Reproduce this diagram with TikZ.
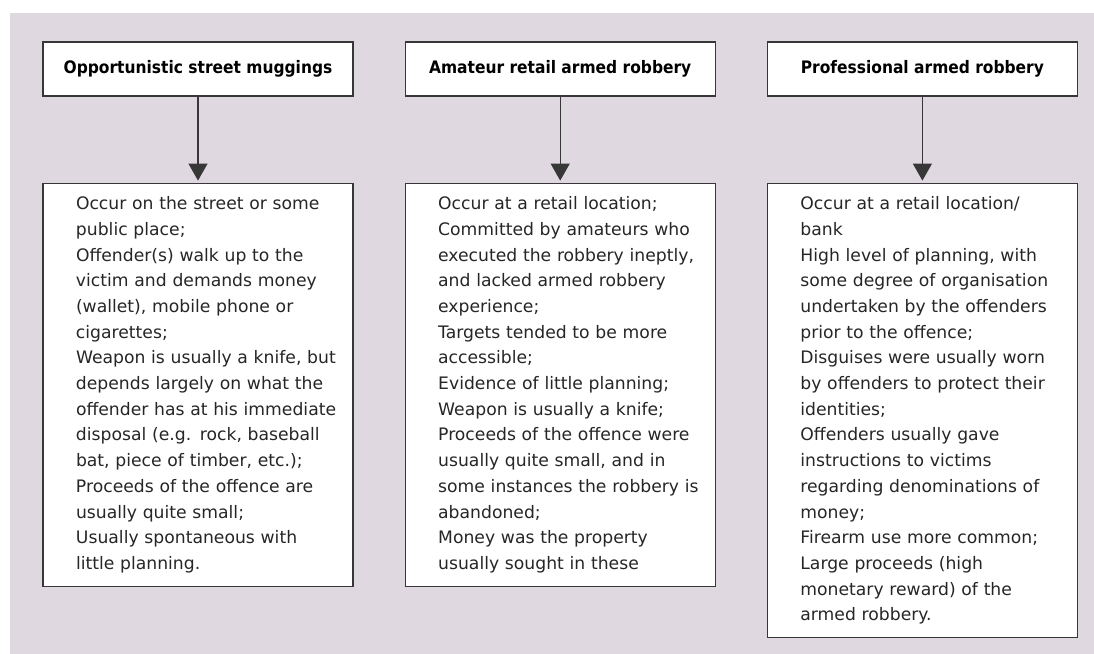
\documentclass[tikz,border=0pt]{standalone}
\usepackage{fontspec}
\setmainfont{DejaVu Sans}
\newfontfamily\headfont{DejaVu Sans Condensed}[BoldFont={DejaVu Sans Condensed Bold}]
\usepackage{xcolor}
\usetikzlibrary{positioning,arrows.meta}
\definecolor{panelbg}{RGB}{224,216,224}
\definecolor{edge}{RGB}{55,55,55}

\begin{document}
\begin{tikzpicture}[
  font=\fontsize{8.6pt}{12.85pt}\selectfont,
  head/.style={draw=edge, fill=white, line width=0.6pt, minimum width=155pt, minimum height=27pt, inner sep=0pt, font=\headfont\bfseries\fontsize{8.6pt}{10pt}\selectfont},
  desc/.style={draw=edge, fill=white, line width=0.6pt, text width=141pt, inner xsep=7pt, inner ysep=6.7pt, align=left, text=black!85, execute at begin node={\leftskip=9.5pt}},
  arr/.style={-{Triangle[width=9.5pt,length=8.5pt]}, line width=0.6pt, draw=edge, shorten >=1pt}
]
  \useasboundingbox (0,0) rectangle (547pt,327pt);
  \fill[panelbg] (5pt,0) rectangle (547pt,320.5pt);
  % headers
  \node[head] (street) at (99pt,292.5pt) {Opportunistic street muggings};
  \node[head, right=25.5pt of street] (amateur) {Amateur retail armed robbery};
  \node[head, right=25.5pt of amateur] (pro) {Professional armed robbery};
  % descriptions
  \node[desc, below=43pt of street] (streetinfo) {
    Occur on the street or some\\
    public place;\\
    Offender(s) walk up to the\\
    victim and demands money\\
    (wallet), mobile phone or\\
    cigarettes;\\
    Weapon is usually a knife, but\\
    depends largely on what the\\
    offender has at his immediate\\
    disposal (e.g. rock, baseball\\
    bat, piece of timber, etc.);\\
    Proceeds of the offence are\\
    usually quite small;\\
    Usually spontaneous with\\
    little planning.};
  \node[desc, below=43pt of amateur] (amateurinfo) {
    Occur at a retail location;\\
    Committed by amateurs who\\
    executed the robbery ineptly,\\
    and lacked armed robbery\\
    experience;\\
    Targets tended to be more\\
    accessible;\\
    Evidence of little planning;\\
    Weapon is usually a knife;\\
    Proceeds of the offence were\\
    usually quite small, and in\\
    some instances the robbery is\\
    abandoned;\\
    Money was the property\\
    usually sought in these};
  \node[desc, below=43pt of pro] (proinfo) {
    Occur at a retail location/\\
    bank\\
    High level of planning, with\\
    some degree of organisation\\
    undertaken by the offenders\\
    prior to the offence;\\
    Disguises were usually worn\\
    by offenders to protect their\\
    identities;\\
    Offenders usually gave\\
    instructions to victims\\
    regarding denominations of\\
    money;\\
    Firearm use more common;\\
    Large proceeds (high\\
    monetary reward) of the\\
    armed robbery.};
  \draw[arr] (street) -- (streetinfo);
  \draw[arr] (amateur) -- (amateurinfo);
  \draw[arr] (pro) -- (proinfo);
\end{tikzpicture}
\end{document}
